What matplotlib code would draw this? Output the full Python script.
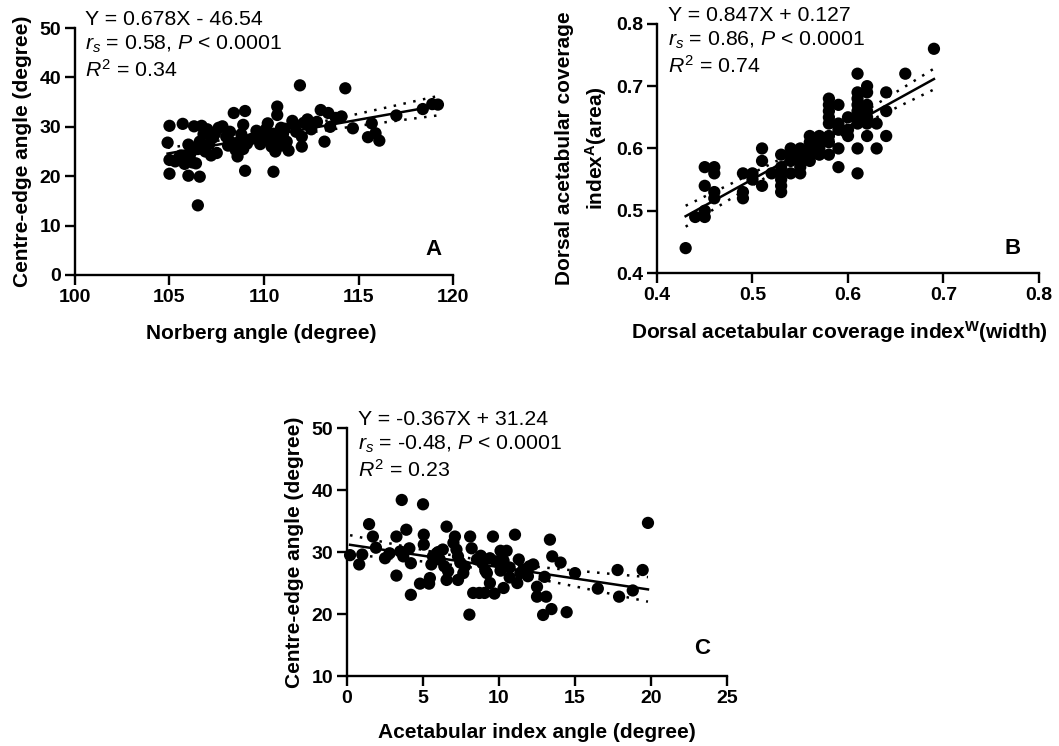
import numpy as np
import matplotlib
matplotlib.use("Agg")
import matplotlib.pyplot as plt

plt.rcParams['font.family'] = ['Liberation Sans', 'DejaVu Sans']
plt.rcParams['mathtext.fontset'] = 'custom'
plt.rcParams['mathtext.rm'] = 'Liberation Sans'
plt.rcParams['mathtext.it'] = 'Liberation Sans:italic'
plt.rcParams['mathtext.bf'] = 'Liberation Sans:bold'

# ---------------- Panel A data: Norberg angle vs Centre-edge angle ----------------
a_x = [105.0, 104.9, 105.0, 105.0, 105.3, 105.5, 105.7, 105.8, 105.9, 106.0, 106.0, 106.1,
       106.2, 106.4, 106.5, 106.6, 106.3, 106.5, 106.6, 106.7, 106.8, 106.9, 107.0, 107.1,
       107.2, 107.3, 107.5, 107.6, 107.8, 108.0, 108.1, 108.2, 108.4, 108.5, 108.6, 108.7,
       108.8, 108.9, 109.0, 109.0, 109.1, 109.3, 109.5, 109.8, 110.0, 110.1, 110.2, 110.3,
       110.4, 110.5, 110.5, 110.6, 110.7, 110.7, 110.8, 110.9, 111.0, 111.2, 111.3, 111.6,
       111.7, 111.9, 112.0, 112.0, 112.1, 112.3, 112.5, 112.8, 113.0, 113.2, 113.4, 113.5,
       113.8, 114.1, 114.3, 114.7, 115.5, 115.7, 115.9, 116.1, 117.0, 118.4, 118.9, 119.2,
       108.3, 109.6, 110.9, 111.5, 107.4, 106.2, 105.6, 108.9, 109.9, 111.1]
a_y = [30.2, 26.8, 20.5, 23.3, 23.0, 23.8, 30.6, 22.5, 23.5, 26.4, 20.1, 24.5,
       22.8, 22.6, 14.1, 19.9, 30.1, 25.5, 27.0, 30.2, 28.5, 25.0, 29.5, 26.5,
       24.2, 27.8, 24.7, 29.8, 30.1, 28.0, 26.2, 29.0, 32.8, 25.3, 24.0, 27.0,
       28.5, 30.4, 33.2, 21.1, 26.6, 27.5, 27.8, 26.5, 28.0, 29.5, 30.7, 27.0,
       26.0, 20.9, 28.6, 25.0, 34.1, 32.4, 27.5, 26.2, 28.5, 27.0, 25.2, 30.5,
       29.0, 38.4, 26.0, 28.0, 30.8, 31.5, 29.5, 31.0, 33.4, 27.0, 32.8, 30.0,
       31.8, 32.1, 37.8, 29.7, 27.9, 30.7, 28.7, 27.2, 32.3, 33.6, 34.6, 34.5,
       26.8, 29.2, 29.8, 31.2, 28.6, 25.8, 24.2, 25.5, 27.2, 29.6]
a_slope, a_icept = 0.678, -46.54

# ---------------- Panel B data: DACI width vs DACI area ----------------
b_x = [0.43, 0.69, 0.66, 0.44, 0.45, 0.45, 0.45, 0.45, 0.46, 0.46, 0.46, 0.46,
       0.49, 0.49, 0.49, 0.50, 0.50, 0.51, 0.51, 0.51, 0.52,
       0.53, 0.53, 0.53, 0.53, 0.53, 0.53, 0.54, 0.54, 0.54, 0.54,
       0.55, 0.55, 0.55, 0.55, 0.55, 0.56, 0.56, 0.56, 0.56, 0.56,
       0.57, 0.57, 0.57, 0.57, 0.58, 0.58, 0.58, 0.58, 0.58, 0.58, 0.58, 0.58,
       0.59, 0.59, 0.59, 0.59, 0.59, 0.60, 0.60, 0.60,
       0.61, 0.61, 0.61, 0.61, 0.61, 0.61, 0.61, 0.61, 0.61,
       0.62, 0.62, 0.62, 0.62, 0.62, 0.62, 0.62, 0.63, 0.63, 0.64, 0.64, 0.64]
b_y = [0.44, 0.76, 0.72, 0.49, 0.49, 0.50, 0.54, 0.57, 0.57, 0.56, 0.53, 0.52,
       0.56, 0.53, 0.52, 0.56, 0.55, 0.60, 0.58, 0.54, 0.56,
       0.59, 0.57, 0.56, 0.55, 0.54, 0.53, 0.60, 0.59, 0.58, 0.56,
       0.60, 0.59, 0.58, 0.57, 0.56, 0.62, 0.61, 0.60, 0.59, 0.58,
       0.62, 0.61, 0.60, 0.59, 0.68, 0.67, 0.66, 0.65, 0.64, 0.62, 0.61, 0.59,
       0.67, 0.64, 0.63, 0.60, 0.57, 0.65, 0.62, 0.63,
       0.72, 0.69, 0.68, 0.67, 0.66, 0.65, 0.64, 0.60, 0.56,
       0.70, 0.69, 0.67, 0.66, 0.65, 0.64, 0.62, 0.64, 0.60, 0.69, 0.66, 0.62]
b_slope, b_icept = 0.847, 0.127

# ---------------- Panel C data: Acetabular index angle vs Centre-edge angle ----------------
c_x = [0.2, 0.8, 1.0, 1.45, 1.7, 1.9, 2.5, 2.8, 3.25, 3.25, 3.6, 3.5, 3.7, 3.9, 4.1, 4.2, 4.2,
       5.0, 5.05, 5.05, 4.8, 5.45, 5.4, 5.55, 5.65, 5.9, 6.1, 6.3, 6.4, 6.65, 6.55, 6.55,
       7.1, 7.0, 7.2, 7.3, 7.45, 7.3, 7.65, 7.75, 8.1, 8.2, 8.3, 8.05, 8.55, 8.7, 9.05,
       9.4, 9.2, 9.6, 9.7, 9.4, 10.1, 10.3, 10.1, 10.3, 10.5, 10.7, 10.7, 11.05, 11.3,
       11.2, 11.4, 11.6, 11.9, 12.0, 12.25, 12.5, 12.5, 12.9, 13.1, 13.35, 13.5, 13.45,
       13.0, 14.05, 14.45, 15.0, 16.5, 17.8, 17.9, 18.8, 19.45, 19.8,
       8.9, 9.1, 9.8, 6.0, 8.8]
c_y = [29.5, 28.0, 29.6, 34.5, 32.5, 30.7, 29.0, 29.8, 32.5, 26.2, 38.4, 30.1, 29.3, 33.6, 30.6, 23.1, 28.2,
       37.7, 32.8, 31.2, 24.9, 25.8, 24.9, 28.0, 29.3, 29.8, 28.8, 30.4, 27.7, 26.9, 25.5, 34.1,
       32.5, 31.5, 30.4, 29.3, 28.3, 25.5, 26.6, 27.7, 32.5, 30.6, 23.4, 19.9, 28.8, 23.4, 23.4,
       29.0, 26.6, 32.5, 23.3, 25.0, 30.2, 28.6, 27.0, 24.2, 30.2, 27.5, 25.9, 32.8, 28.8,
       25.0, 26.6, 27.2, 26.1, 27.7, 28.0, 24.4, 22.8, 19.85, 22.8, 32.0, 29.3, 20.8,
       26.0, 28.3, 20.3, 26.6, 24.1, 27.1, 22.8, 23.8, 27.1, 34.7,
       28.2, 27.0, 28.5, 30.0, 29.4]
c_slope, c_icept = -0.367, 31.24


def ci_band(x, y, slope, icept, xs):
    x = np.asarray(x, float)
    y = np.asarray(y, float)
    n = len(x)
    resid = y - (slope * x + icept)
    s = np.sqrt(np.sum(resid ** 2) / (n - 2))
    sxx = np.sum((x - x.mean()) ** 2)
    se = s * np.sqrt(1.0 / n + (xs - x.mean()) ** 2 / sxx)
    fit = slope * xs + icept
    return fit, fit - 1.985 * se, fit + 1.985 * se


fig = plt.figure(figsize=(10.59, 7.46), dpi=100)

TICK_FS = 14
LAB_FS = 15
ANN_FS = 15.3


def panel(rect, x, y, slope, icept, xlim, ylim, xticks, yticks, xlabel, ylabel,
          xlab_pos, ylab_pos, ann, ann_x, letter, letter_pos, s=78):
    ax = fig.add_axes(rect)
    ax.scatter(x, y, s=s, color='black', edgecolors='none', zorder=3, clip_on=False)
    xs = np.linspace(min(x), max(x), 200)
    fit, lo, hi = ci_band(x, y, slope, icept, xs)
    ax.plot(xs, fit, color='black', lw=1.8, zorder=4)
    ax.plot(xs, lo, color='black', lw=1.8, ls=(0, (1, 3)), zorder=4)
    ax.plot(xs, hi, color='black', lw=1.8, ls=(0, (1, 3)), zorder=4)
    ax.set_xlim(*xlim)
    ax.set_ylim(*ylim)
    ax.set_xticks(xticks)
    ax.set_yticks(yticks)
    ax.set_xticklabels([str(t) for t in xticks], fontsize=TICK_FS, fontweight='bold')
    ax.set_yticklabels([str(t) for t in yticks], fontsize=TICK_FS, fontweight='bold')
    for sp in ['top', 'right']:
        ax.spines[sp].set_visible(False)
    for sp in ['left', 'bottom']:
        ax.spines[sp].set_linewidth(1.7)
    ax.tick_params(direction='out', length=7, width=1.7, pad=3)
    ax.set_xlabel(xlabel, fontsize=LAB_FS, fontweight='bold', va='center')
    ax.set_ylabel(ylabel, fontsize=LAB_FS, fontweight='bold', linespacing=1.45,
                  va='center', ha='center')
    ax.xaxis.set_label_coords(*xlab_pos)
    ax.yaxis.set_label_coords(*ylab_pos)
    ys = [1.035, 0.935, 0.83]
    for t, yy in zip(ann, ys):
        ax.text(ann_x, yy, t, transform=ax.transAxes, fontsize=ANN_FS,
                ha='left', va='center')
    ax.text(letter_pos[0], letter_pos[1], letter, transform=ax.transAxes,
            fontsize=16, fontweight='bold', ha='center', va='center')
    return ax


panel([0.0708, 0.6314, 0.357, 0.331], a_x, a_y, a_slope, a_icept,
      (100, 120), (0, 50), [100, 105, 110, 115, 120], [0, 10, 20, 30, 40, 50],
      'Norberg angle (degree)', 'Centre-edge angle (degree)',
      (0.494, -0.235), (-0.14, 0.5),
      ['Y = 0.678X - 46.54', r'$r_s$ = 0.58, $P$ < 0.0001', r'$R^{\mathrm{2}}$ = 0.34'],
      0.026, 'A', (0.947, 0.105))

panel([0.6204, 0.634, 0.3607, 0.334], b_x, b_y, b_slope, b_icept,
      (0.4, 0.8), (0.4, 0.8), [0.4, 0.5, 0.6, 0.7, 0.8], [0.4, 0.5, 0.6, 0.7, 0.8],
      r'Dorsal acetabular coverage index$^{\mathbf{W}}$(width)',
      'Dorsal acetabular coverage\n' + r'index$^{\mathbf{A}}$(area)',
      (0.479, -0.237), (-0.196, 0.5),
      ['Y = 0.847X + 0.127', r'$r_s$ = 0.86, $P$ < 0.0001', r'$R^{\mathrm{2}}$ = 0.74'],
      0.029, 'B', (0.93, 0.10))

panel([0.3277, 0.0938, 0.3588, 0.3324], c_x, c_y, c_slope, c_icept,
      (0, 25), (10, 50), [0, 5, 10, 15, 20, 25], [10, 20, 30, 40, 50],
      'Acetabular index angle (degree)', 'Centre-edge angle (degree)',
      (0.5, -0.226), (-0.137, 0.5),
      ['Y = -0.367X + 31.24', r'$r_s$ = -0.48, $P$ < 0.0001', r'$R^{\mathrm{2}}$ = 0.23'],
      0.029, 'C', (0.934, 0.113))

fig.savefig('out.png', dpi=100)
